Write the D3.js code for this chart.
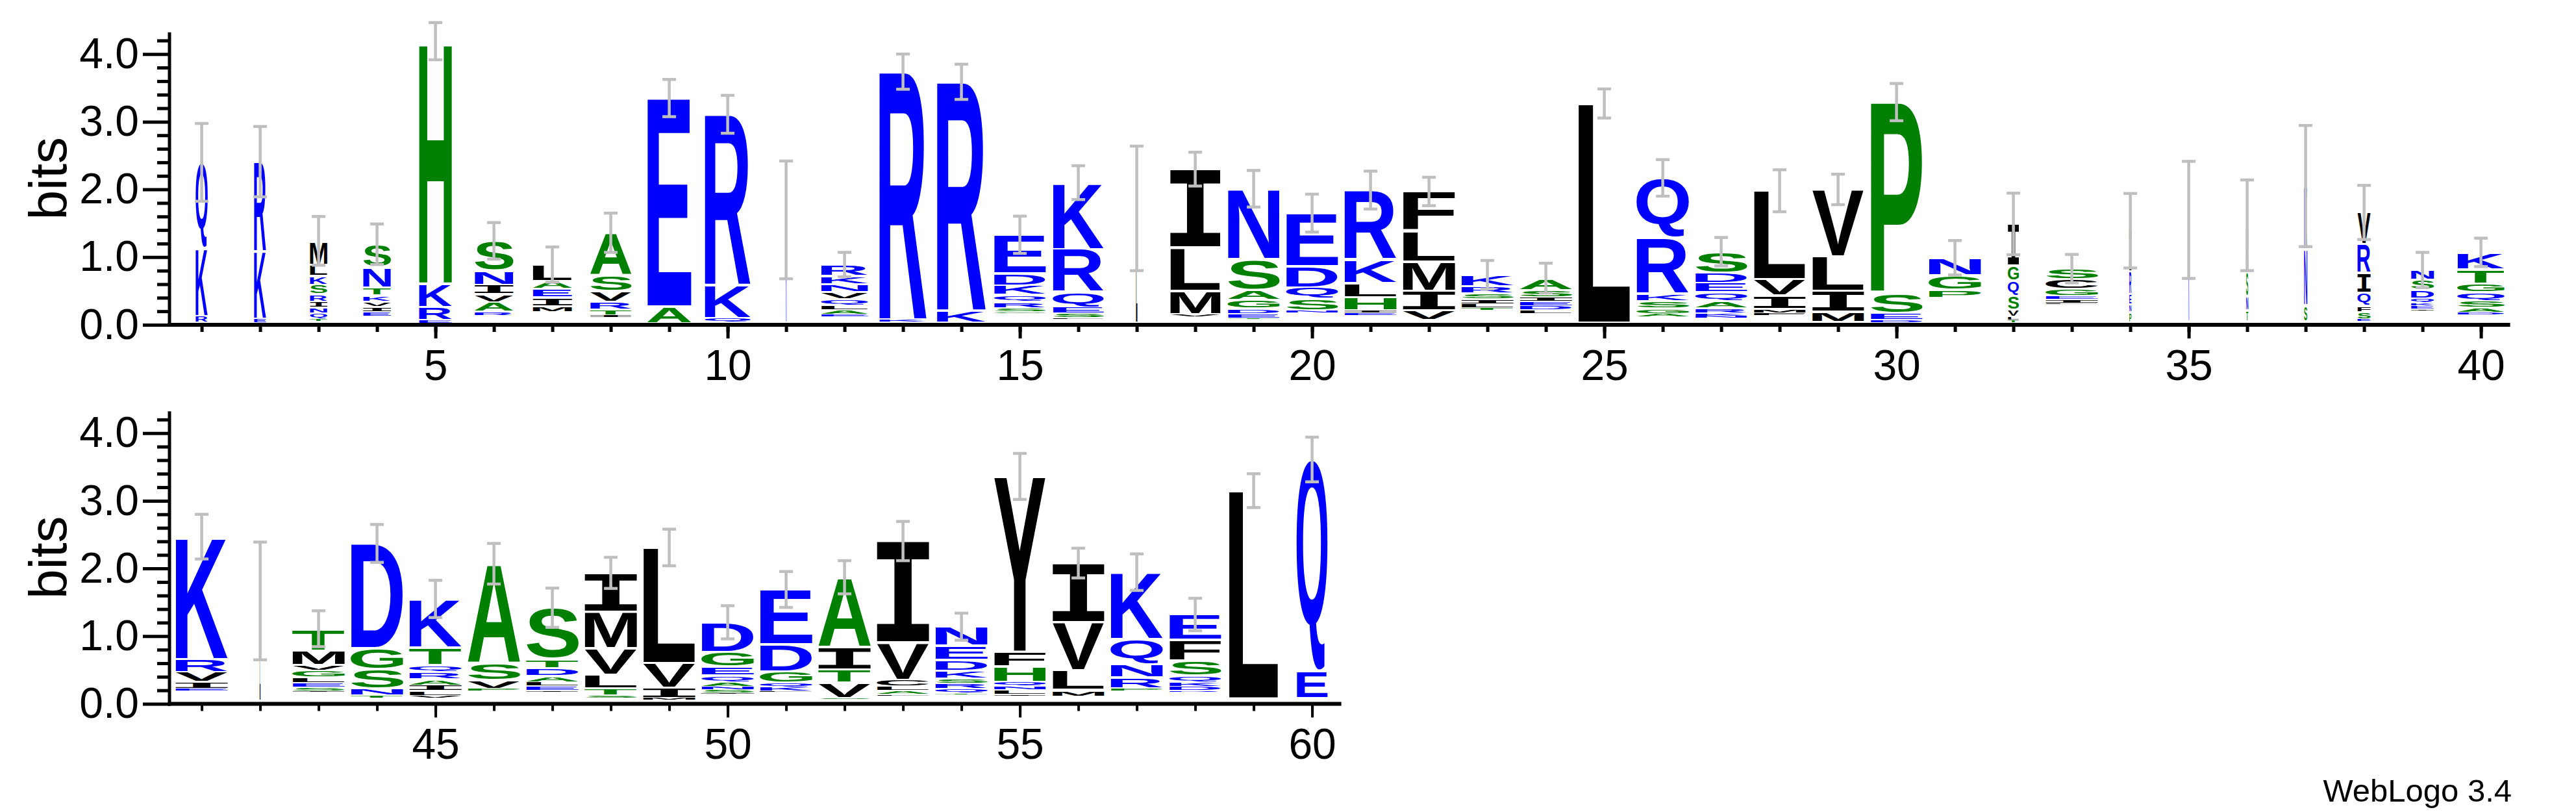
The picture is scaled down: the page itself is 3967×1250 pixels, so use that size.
<!DOCTYPE html>
<html><head><meta charset="utf-8">
<script src="https://cdn.jsdelivr.net/npm/d3@7"></script>
<style>body{margin:0;background:#fff}svg{display:block}</style>
</head><body>
<svg id="c" width="3967" height="1250"></svg>
<script>
// ---------------- data ----------------
const positions = d3.range(1, 61);
// residues of each column, listed bottom -> top
const residues = [
 "RKQ","EKR","TQNIRSKLM","EIVKTNS","ERKH","RAVINS","MIEAL","ITRVSA","AE","QKR",
 "K","EALQVNKR","KR","KR","GSRQKDE","LSEQRK","L","VMLI","TEDGASN","NSQDE",
 "EIHLKR","VIMLF","TLISRK","LDEISA","L","AGSKRQ","NKRAQEDS","FMIVL","SMILV","DESP",
 "PGN","TLVSQGI","LIEGCS","PNERI","K","TNSR","SNK","ESFQIRV","IEKQDSN","DASQGTK",
 "EIVRK","L","ISELGVMT","TNSGD","VLIARQTK","PVSA","IELADTS","STLVMI","MIVL","ISNAQEGD",
 "LKQGDE","SVTIA","FALCVI","TQRSKDEN","ILNQHFY","MLVI","PRNQK","RDKQSFE","L","EQ"
];
// heights in bits of each residue, same order
const heights = [
 [.10,1.0,1.27],[.06,1.0,1.32],[.04,.08,.09,.08,.11,.14,.13,.17,.35],[.075,.075,.07,.09,.12,.30,.34],[.05,.19,.35,3.58],
 [.05,.14,.12,.14,.21,.44],[.08,.135,.125,.12,.24],[.03,.08,.12,.16,.23,.63],[.25,3.08],[.06,.49,2.52],
 [1.52],[.035,.065,.07,.09,.10,.12,.12,.17],[.04,3.66],[.18,3.38],[.02,.06,.09,.10,.14,.18,.57],
 [.02,.065,.095,.23,.63,.98],[1.69],[.035,.345,.64,1.16],[.02,.065,.075,.13,.145,.455,1.04],[.03,.17,.17,.32,.78],
 [.035,.035,.2,.21,.35,1.02],[.14,.295,.43,.455,.58],[.03,.06,.07,.08,.11,.17],[.05,.06,.06,.07,.105,.175],[3.24],
 [.045,.075,.11,.11,.82,.89],[.03,.04,.07,.11,.13,.14,.15,.31],[.03,.06,.20,.24,1.31],[.02,.15,.31,.51,.99],[.04,.10,.28,2.84],
 [.125,.215,.26],[.04,.045,.105,.21,.22,.225,.615],[.02,.055,.045,.11,.14,.16],[.15,.12,.15,.335,.605],[1.50],
 [.16,.21,.365,.685],[.24,.83,.93],[.026,.114,.095,.19,.295,.42,.47],[.02,.05,.04,.07,.13,.14,.15],[.03,.07,.10,.13,.13,.21,.25],
 [.03,.10,.15,.19,1.81],[1.47],[.02,.05,.07,.08,.10,.08,.215,.325],[.03,.10,.29,.31,1.55],[.03,.07,.08,.09,.11,.10,.26,.72],
 [.03,.13,.25,1.47],[.015,.065,.06,.09,.12,.135,.755],[.03,.11,.20,.39,.545,.57],[.025,.155,.36,1.71],[.01,.045,.05,.065,.10,.13,.22,.435],
 [.01,.06,.06,.17,.40,.81],[.015,.225,.20,.33,1.03],[.02,.055,.06,.10,.55,1.50],[.02,.06,.08,.075,.115,.16,.21,.28],[.02,.065,.055,.06,.23,.22,2.59],
 [.095,.295,.71,.87],[.04,.16,.19,.375,.99],[.015,.06,.065,.10,.22,.305,.375],[3.07],[.40,3.13]
];
// small residues too thin to be drawn (bits at the bottom of each column)
const hiddenBits = [
 .03,.03,.05,.12,.02,.14,.19,.11,.02,.04,
 .03,.12,.04,.03,.17,.08,.03,.12,.08,.18,
 .14,.07,.22,.17,.03,.12,.10,.14,.02,.03,
 .39,.03,.30,.03,.05,.05,.05,.05,.21,.15,
 .19,.05,.17,.09,.09,.19,.18,.09,.06,.15,
 .18,.07,.12,.14,.12,.11,.19,.18,.08,.08
];
// fraction of sequences present (stack width)
const widthFrac = [
 .23,.23,.33,.53,.63,.74,.75,.79,.84,.88,
 .015,.90,.91,.94,.99,.975,.025,.96,.99,.99,
 1,1,1,1,1,1,.99,.99,.99,.99,
 1,.21,1,.04,.015,.04,.06,.25,.44,.90,
 1,.015,1,1,1,1,1,1,1,1,
 1,1,1,1,.99,.99,1,.99,.95,.59
];
// error bar half-length, bits
const errBits = [
 .575,.52,.36,.30,.275,.27,.26,.29,.275,.28,
 .87,.18,.26,.26,.275,.25,.92,.25,.27,.28,
 .28,.21,.21,.22,.215,.27,.21,.31,.225,.275,
 .255,.455,.21,.55,.865,.67,.895,.40,.26,.21,
 .33,.87,.265,.28,.275,.30,.29,.23,.27,.245,
 .265,.245,.29,.20,.34,.22,.27,.24,.25,.33
];
const yTickValues = [0, 1, 2, 3, 4];
const yTickLabels = ["0.0", "1.0", "2.0", "3.0", "4.0"];
const colorGroups = { blue: "RKDENQ", green: "SGHTAP", black: "VLIMCFWY" };

// ---------------- layout ----------------
const svg = d3.select('#c');
const perRow = 40;
const rowBase = [500, 1083.5];
const bitPx = 104.2;
const maxBits = Math.log2(20);
const stackW = 81;
const axisX = 261;
const fontTxt = '"Liberation Sans", Arial, Helvetica, sans-serif';

const colorOf = ch => colorGroups.blue.includes(ch) ? '#0000ff'
  : colorGroups.green.includes(ch) ? '#008000' : '#000000';
const fontFor = ch => ch === 'I' ? '"DejaVu Sans Mono"' : '"Liberation Sans"';

const cvs = document.createElement('canvas');
const ctx = cvs.getContext('2d');
const metrics = {};
function glyph(ch) {
  if (!metrics[ch]) {
    ctx.font = `bold 100px ${fontFor(ch)}`;
    const t = ctx.measureText(ch);
    metrics[ch] = { l: t.actualBoundingBoxLeft, r: t.actualBoundingBoxRight,
                    a: t.actualBoundingBoxAscent, d: t.actualBoundingBoxDescent };
  }
  return metrics[ch];
}

for (let r = 0; r < 2; r++) {
  const first = r * perRow + 1;
  const last = Math.min(positions.length, first + perRow - 1);
  const x = d3.scaleLinear().domain([first - 0.5, first + perRow - 0.5]).range([265.6, 3865.6]);
  const y = d3.scaleLinear().domain([0, maxBits]).range([rowBase[r], rowBase[r] - maxBits * bitPx]);
  const rowPos = positions.filter(p => p >= first && p <= last);

  const g = svg.append('g');
  // stacks
  rowPos.forEach(p => {
    const i = p - 1;
    let acc = hiddenBits[i];
    const w = Math.max(1, stackW * widthFrac[i]);
    const cx = x(p);
    residues[i].split('').forEach((ch, k) => {
      const hb = heights[i][k];
      const yb = y(acc), yt = y(acc + hb);
      acc += hb;
      const slot = yb - yt;
      const gap = Math.min(3.5, slot * 0.3);
      const inkTop = yt + gap / 2, inkH = slot - gap;
      if (inkH <= 0.3) return;
      const mt = glyph(ch);
      const sx = w / (mt.l + mt.r), sy = inkH / (mt.a + mt.d);
      g.append('text').text(ch)
        .attr('font-family', fontFor(ch)).attr('font-weight', 'bold').attr('font-size', 100)
        .attr('fill', colorOf(ch))
        .attr('transform', `translate(${cx - w / 2 + mt.l * sx},${inkTop + mt.a * sy}) scale(${sx},${sy})`);
    });
  });

  // error bars
  const eg = svg.append('g').attr('stroke', '#bfbfbf').attr('stroke-width', 4.5);
  rowPos.forEach(p => {
    const i = p - 1;
    const top = hiddenBits[i] + d3.sum(heights[i]);
    const cx = x(p);
    const y1 = y(top + errBits[i]), y2 = y(top - errBits[i]);
    eg.append('line').attr('x1', cx).attr('x2', cx).attr('y1', y1).attr('y2', y2);
    eg.append('line').attr('x1', cx - 10.5).attr('x2', cx + 10.5).attr('y1', y1).attr('y2', y1);
    eg.append('line').attr('x1', cx - 10.5).attr('x2', cx + 10.5).attr('y1', y2).attr('y2', y2);
  });

  // y axis
  const yMinor = d3.range(1, 22).map(v => v * 0.2).filter(v => Math.abs(v - Math.round(v)) > 1e-6);
  const yAxMinor = svg.append('g').attr('transform', `translate(${axisX},0)`)
    .call(d3.axisLeft(y).tickValues(yMinor).tickSize(19).tickSizeOuter(0).tickFormat(''));
  yAxMinor.select('.domain').remove();
  const yAx = svg.append('g').attr('transform', `translate(${axisX},0)`)
    .call(d3.axisLeft(y).tickValues(yTickValues).tickSize(41).tickPadding(6)
      .tickFormat((d, k) => yTickLabels[k]).tickSizeOuter(0));
  yAx.select('.domain').attr('d', `M0,${rowBase[r] + 3}V${y(maxBits)}`).attr('stroke-width', 5);
  svg.selectAll('g line').filter(function () { return this.parentNode.classList.contains('tick'); })
    .attr('stroke-width', 5);
  yAx.selectAll('text').attr('font-family', fontTxt).attr('font-size', 66).attr('fill', '#000');

  // x axis
  const xMinor = svg.append('g').attr('transform', `translate(0,${rowBase[r]})`)
    .call(d3.axisBottom(x).tickValues(rowPos).tickSize(11).tickSizeOuter(0).tickFormat(''));
  xMinor.select('.domain').attr('d', `M${axisX - 2.5},0H${x(last + 0.5)}`).attr('stroke-width', 6);
  xMinor.selectAll('.tick line').attr('stroke-width', 4);
  const xAx = svg.append('g').attr('transform', `translate(0,${rowBase[r]})`)
    .call(d3.axisBottom(x).tickValues(rowPos.filter(p => p % 5 === 0)).tickSize(21).tickPadding(17)
      .tickFormat(d3.format('d')).tickSizeOuter(0));
  xAx.select('.domain').remove();
  xAx.selectAll('.tick line').attr('stroke-width', 4);
  xAx.selectAll('text').attr('font-family', fontTxt).attr('font-size', 66).attr('fill', '#000');

  // y label
  svg.append('text').text('bits')
    .attr('transform', `translate(102,${(y(0) + y(maxBits)) / 2}) rotate(-90)`)
    .attr('text-anchor', 'middle').attr('font-family', fontTxt).attr('font-size', 82).attr('fill', '#000');
}

svg.append('text').text('WebLogo 3.4').attr('x', 3868).attr('y', 1234)
  .attr('text-anchor', 'end').attr('font-family', fontTxt).attr('font-size', 49).attr('fill', '#000');
</script>
</body></html>
